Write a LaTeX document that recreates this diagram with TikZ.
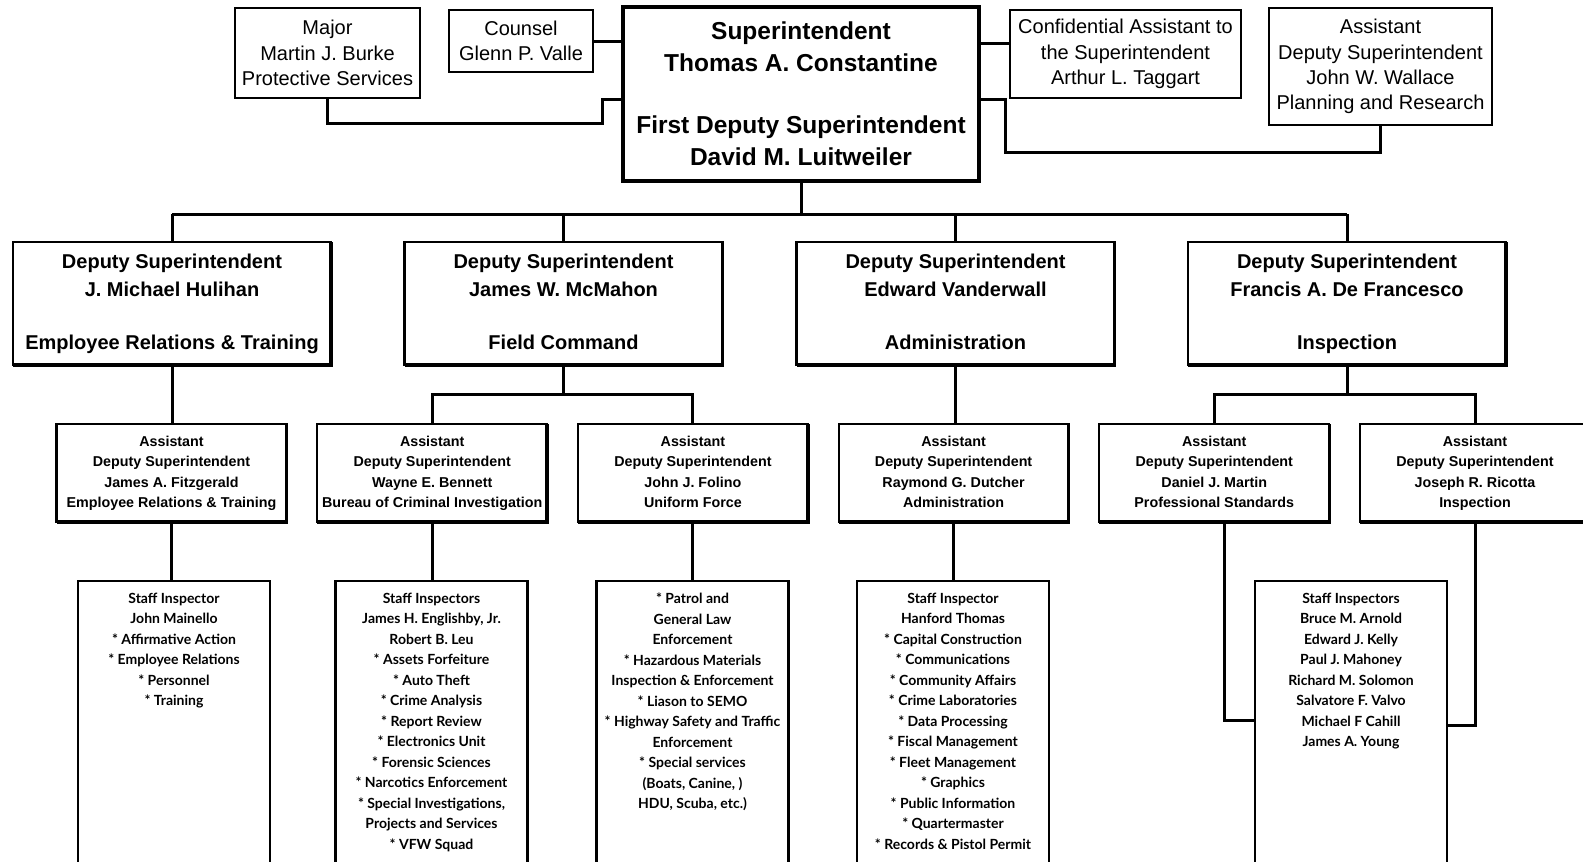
\documentclass[tikz,border=0pt]{standalone}
\usepackage{fontspec}
\setmainfont{Liberation Sans}
\newfontfamily\listfont{Lato}
\newcommand{\stafflist}[1]{\parbox[c][282pt][t]{190pt}{\centering\vspace*{12pt}#1}}

\begin{document}
\begin{tikzpicture}[x=1pt,y=-1pt,
  box/.style={draw,line width=2.2pt,inner sep=0pt,outer sep=0pt,align=center},
  link/.style={line width=3pt},
  topbox/.style={box,font=\fontsize{20}{25.3}\selectfont},
  depbox/.style={box,minimum width=318pt,minimum height=123pt,font=\fontsize{20}{28}\selectfont\bfseries},
  asstbox/.style={box,minimum width=230pt,minimum height=98pt,font=\fontsize{14.3}{20.3}\selectfont\bfseries},
  staffbox/.style={box,anchor=north,minimum width=192pt,font=\listfont\bfseries\fontsize{14}{20.5}\selectfont}]
\useasboundingbox (0,0) rectangle (1583,862);

% top row
\node[topbox,minimum width=185pt,minimum height=90pt] (major) at (327.5,53) {Major\\Martin J. Burke\\Protective Services};
\node[topbox,minimum width=144pt,minimum height=62pt] (counsel) at (521,41) {Counsel\\Glenn P. Valle};
\node[box,line width=4.5pt,minimum width=356pt,minimum height=174pt,font=\fontsize{24.5}{32}\selectfont\bfseries] (supt) at (801,94)
  {Superintendent\\Thomas A. Constantine\\[30pt]First Deputy Superintendent\\David M. Luitweiler};
\node[topbox,minimum width=231pt,minimum height=88pt] (confid) at (1125.5,54) {Confidential Assistant to\\the Superintendent\\Arthur L. Taggart};
\node[topbox,minimum width=223pt,minimum height=117pt] (wallace) at (1380.5,66.5) {Assistant\\Deputy Superintendent\\John W. Wallace\\Planning and Research};

\coordinate (majorj) at (602,99);
\coordinate (wallj) at (1005,99);
\draw[link] (counsel.east |- 0,41) -- (supt.west |- 0,41);
\draw[link] (major.south) |- (majorj |- 0,123) -- (majorj) -- (majorj -| supt.west);
\draw[link] (supt.east |- 0,43) -- (confid.west |- 0,43);
\draw[link] (wallj -| supt.east) -- (wallj) |- (wallace.south |- 0,152) -- (wallace.south);

% deputy superintendents
\foreach \i/\x/\nm/\dept in {1/172/J. Michael Hulihan/Employee Relations \& Training,
  2/563.5/James W. McMahon/Field Command, 3/955.5/Edward Vanderwall/Administration,
  4/1347/Francis A. De Francesco/Inspection}
{
  \node[depbox] (dep\i) at (\x,303.5) {\strut Deputy Superintendent\\\nm\\[25pt]\dept\strut};
  \draw[line width=3.6pt] (dep\i.north east) -- (dep\i.south east) -- (dep\i.south west);
  \draw[link] (dep\i.north) -- (dep\i.north |- 0,214);
}
\draw[link] (supt.south) -- (supt.south |- 0,214);
\draw[link] (dep1.north |- 0,214) -- (dep4.north |- 0,214);

% assistant deputy superintendents
\foreach \i/\x/\nm/\unit in {1/171.5/James A. Fitzgerald/Employee Relations \& Training,
  2/432.2/Wayne E. Bennett/Bureau of Criminal Investigation, 3/692.9/John J. Folino/Uniform Force,
  4/953.6/Raymond G. Dutcher/Administration, 5/1214.3/Daniel J. Martin/Professional Standards,
  6/1475/Joseph R. Ricotta/Inspection}
{
  \node[asstbox] (asst\i) at (\x,473) {\strut Assistant\\Deputy Superintendent\\\nm\\\unit\strut};
  \draw[line width=3.6pt] (asst\i.north east) -- (asst\i.south east) -- (asst\i.south west);
}
\draw[link] (dep1.south) -- (dep1.south |- asst1.north);
\draw[link] (dep3.south) -- (dep3.south |- asst4.north);
\draw[link] (dep2.south) -- (dep2.south |- 0,394);
\draw[link] (asst2.north) |- (asst3.north |- 0,394) -- (asst3.north);
\draw[link] (dep4.south) -- (dep4.south |- 0,394);
\draw[link] (asst5.north) |- (asst6.north |- 0,394) -- (asst6.north);

% staff lists
\node[staffbox] (ertstaff) at (174,581) {\stafflist{Staff Inspector\\John Mainello\\{*} Affirmative Action\\{*} Employee Relations\\{*} Personnel\\{*} Training}};
\node[staffbox] (bcistaff) at (431.5,581) {\stafflist{Staff Inspectors\\James H. Englishby, Jr.\\Robert B. Leu\\{*} Assets Forfeiture\\{*} Auto Theft\\{*} Crime Analysis\\{*} Report Review\\{*} Electronics Unit\\{*} Forensic Sciences\\{*} Narcotics Enforcement\\{*} Special Investigations,\\Projects and Services\\{*} VFW Squad}};
\node[staffbox] (ufstaff) at (692.5,581) {\stafflist{{*} Patrol and\\General Law\\Enforcement\\{*} Hazardous Materials\\Inspection \& Enforcement\\{*} Liason to SEMO\\{*} Highway Safety and Traffic\\Enforcement\\{*} Special services\\(Boats, Canine, )\\HDU, Scuba, etc.)}};
\node[staffbox] (admstaff) at (953,581) {\stafflist{Staff Inspector\\Hanford Thomas\\{*} Capital Construction\\{*} Communications\\{*} Community Affairs\\{*} Crime Laboratories\\{*} Data Processing\\{*} Fiscal Management\\{*} Fleet Management\\{*} Graphics\\{*} Public Information\\{*} Quartermaster\\{*} Records \& Pistol Permit}};
\node[staffbox] (inspstaff) at (1351,581) {\stafflist{Staff Inspectors\\Bruce M. Arnold\\Edward J. Kelly\\Paul J. Mahoney\\Richard M. Solomon\\Salvatore F. Valvo\\Michael F Cahill\\James A. Young}};

\draw[link] (asst1.south) -- (asst1.south |- ertstaff.north);
\draw[link] (asst2.south) -- (asst2.south |- bcistaff.north);
\draw[link] (asst3.south) -- (asst3.south |- ufstaff.north);
\draw[link] (asst4.south) -- (asst4.south |- admstaff.north);
\coordinate (inspl) at (1224,720);
\coordinate (inspr) at (1475,725);
\draw[link] (inspl |- asst5.south) -- (inspl) -- (inspl -| inspstaff.west);
\draw[link] (asst6.south) -- (asst6.south |- inspr) -- (inspr -| inspstaff.east);
\end{tikzpicture}
\end{document}
